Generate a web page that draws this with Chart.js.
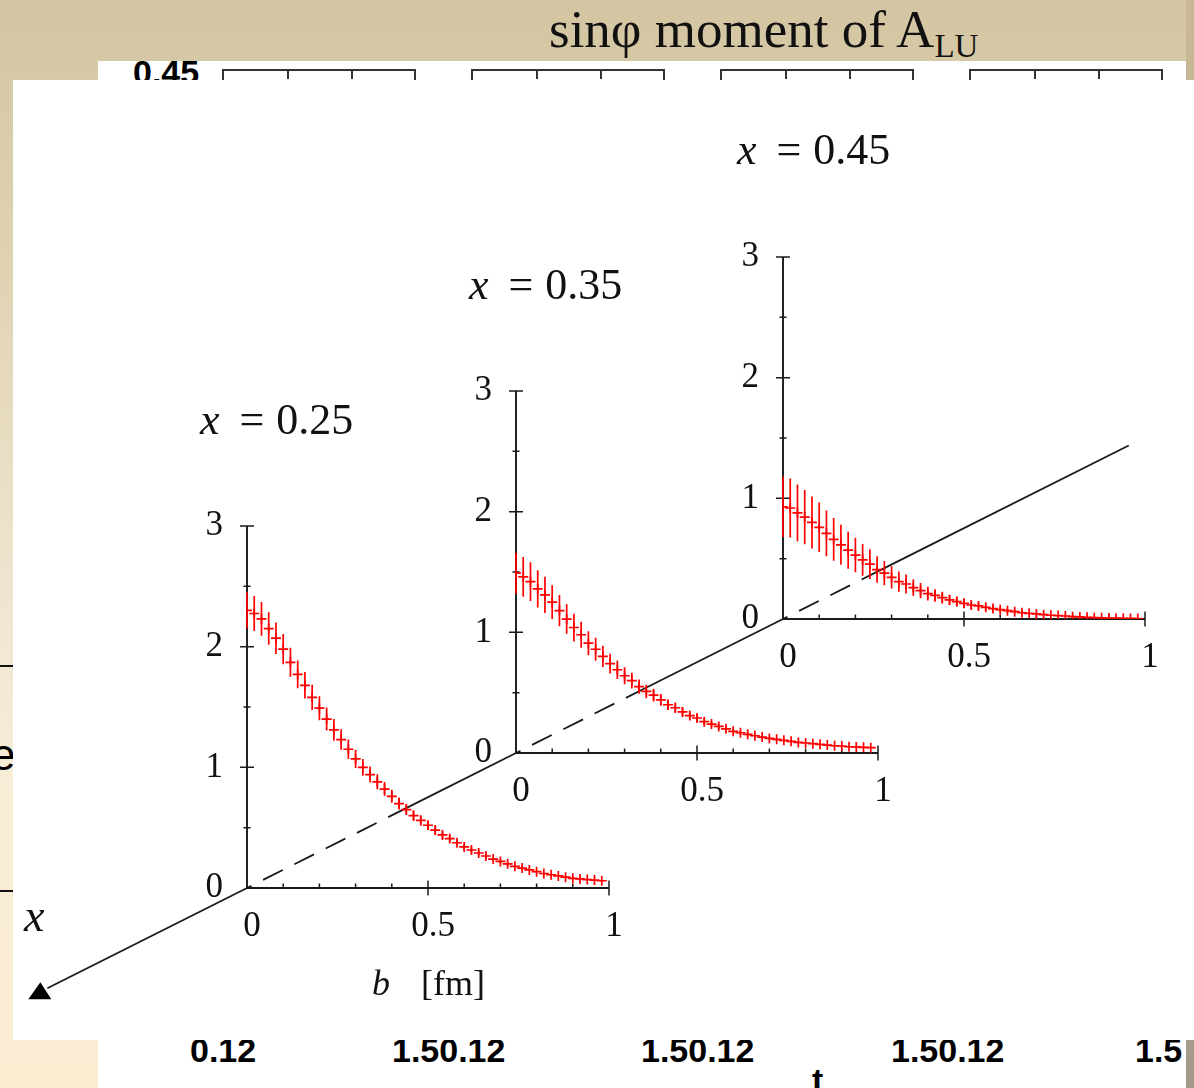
<!DOCTYPE html>
<html lang="en">
<head>
<meta charset="utf-8">
<title>sinφ moment of A_LU</title>
<script src="https://cdn.jsdelivr.net/npm/chart.js@4.4.1/dist/chart.umd.min.js"></script>
<style>
  html, body { margin: 0; padding: 0; }
  body {
    position: relative; width: 1194px; height: 1088px; overflow: hidden;
    background: linear-gradient(to bottom, #d3c5a2 0%, #d8cba8 10%, #e4d7ba 32%, #f1e7d2 58%, #f8edd6 72%, #fbecd2 100%);
    font-family: "Liberation Serif", "Times New Roman", serif; color: #111;
  }
  .abs { position: absolute; white-space: nowrap; line-height: 1; }
  #edge-right { left: 1186px; top: 0; width: 8px; height: 1088px;
    background: linear-gradient(to bottom, #c9b896 0%, #b9aa8b 55%, #a39a8b 100%); }
  #panel-back  { left: 98px; top: 61px; width: 1088px; height: 1027px; background: #fff; }
  #panel-front { left: 13px; top: 80px; width: 1181px; height: 960px; background: #fff; }
  .sans { font-family: "Liberation Sans", Arial, sans-serif; font-weight: bold; font-size: 34px; color: #000; }
  .box { top: 69px; width: 190px; height: 20px; border: 2px solid #333; border-bottom: none; }
  .box::before, .box::after { content: ''; position: absolute; top: 0; width: 2px; height: 8px; background: #333; }
  .box::before { left: 63px; }
  .box::after  { left: 127px; }
  .rule { left: 0; width: 13px; height: 2px; background: #111; }
  canvas { position: absolute; left: 0; top: 0; }
  .slice { font-size: 44px; }
  .slice i { margin-right: 20px; }
  .slice span { margin-left: 12px; }
</style>
</head>
<body>
  <!-- slide behind the figure -->
  <div class="abs" id="edge-right"></div>
  <div class="abs rule" style="top:665px"></div>
  <div class="abs rule" style="top:890px"></div>
  <div class="abs sans" style="left:-9px; top:733px; font-weight:normal; font-size:44px;">e</div>

  <div class="abs" id="panel-back"></div>
  <div class="abs sans" style="left:133px; top:55px;">0.45</div>
  <div class="abs box" style="left:222px"></div>
  <div class="abs box" style="left:471px"></div>
  <div class="abs box" style="left:720px"></div>
  <div class="abs box" style="left:969px"></div>
  <div class="abs sans" style="left:190px; top:1033px;">0.12</div>
  <div class="abs sans" style="left:392px; top:1033px;">1.50.12</div>
  <div class="abs sans" style="left:641px; top:1033px;">1.50.12</div>
  <div class="abs sans" style="left:891px; top:1033px;">1.50.12</div>
  <div class="abs sans" style="left:1135px; top:1033px;">1.5</div>
  <div class="abs sans" style="left:812px; top:1063px;">t</div>

  <div class="abs" style="left:549px; top:3px; font-size:53px;">sinφ moment of A<span style="font-size:33px; position:relative; top:10px;">LU</span></div>

  <div class="abs" id="panel-front"></div>

  <!-- figure -->
  <canvas id="depth-axis" width="1194" height="1088"></canvas>
  <canvas id="chart-x045" width="1194" height="1088"></canvas>
  <canvas id="chart-x035" width="1194" height="1088"></canvas>
  <canvas id="chart-x025" width="1194" height="1088"></canvas>

  <div class="abs slice" style="left:200px; top:398px;"><i>x</i>=<span>0.25</span></div>
  <div class="abs slice" style="left:469px; top:263px;"><i>x</i>=<span>0.35</span></div>
  <div class="abs slice" style="left:737px; top:128px;"><i>x</i>=<span>0.45</span></div>
  <div class="abs" style="left:24px; top:893px; font-size:46px;"><i>x</i></div>
  <div class="abs" style="left:372px; top:965px; font-size:36px;"><i>b</i></div>
  <div class="abs" style="left:421px; top:965px; font-size:36px;">[fm]</div>

<script>
'use strict';

/* ── Data ───────────────────────────────────────────────────────────────── */
const B_FM = [
  0.00, 0.02, 0.04, 0.06, 0.08, 0.10, 0.12, 0.14, 0.16, 0.18,
  0.20, 0.22, 0.24, 0.26, 0.28, 0.30, 0.32, 0.34, 0.36, 0.38,
  0.40, 0.42, 0.44, 0.46, 0.48, 0.50, 0.52, 0.54, 0.56, 0.58,
  0.60, 0.62, 0.64, 0.66, 0.68, 0.70, 0.72, 0.74, 0.76, 0.78,
  0.80, 0.82, 0.84, 0.86, 0.88, 0.90, 0.92, 0.94, 0.96, 0.98
];

const X_SLICES = [0.25, 0.35, 0.45];
const B_TICK_LABELS = ['0', '0.5', '1'];
const Y_TICK_LABELS = ['0', '1', '2', '3'];

const VAL_X025 = [
  2.30, 2.275, 2.23, 2.15, 2.07, 1.98, 1.87, 1.77, 1.68, 1.58,
  1.49, 1.40, 1.31, 1.23, 1.15, 1.07, 1.00, 0.94, 0.88, 0.82,
  0.76, 0.70, 0.65, 0.60, 0.56, 0.52, 0.48, 0.44, 0.41, 0.375,
  0.34, 0.315, 0.29, 0.265, 0.24, 0.22, 0.20, 0.18, 0.165, 0.15,
  0.135, 0.12, 0.11, 0.10, 0.09, 0.08, 0.075, 0.07, 0.066, 0.06
];
const ERR_X025 = [
  0.15, 0.145, 0.14, 0.135, 0.13, 0.125, 0.12, 0.115, 0.11, 0.105,
  0.10, 0.095, 0.09, 0.085, 0.08, 0.075, 0.07, 0.066, 0.062, 0.058,
  0.054, 0.05, 0.046, 0.043, 0.04, 0.037, 0.034, 0.031, 0.029, 0.027,
  0.025, 0.023, 0.021, 0.019, 0.017, 0.016, 0.015, 0.014, 0.013, 0.012,
  0.011, 0.010, 0.009, 0.008, 0.008, 0.007, 0.007, 0.006, 0.006, 0.005
];

const VAL_X035 = [
  1.49, 1.46, 1.42, 1.36, 1.31, 1.25, 1.18, 1.11, 1.04, 0.98,
  0.91, 0.86, 0.80, 0.74, 0.69, 0.64, 0.60, 0.55, 0.51, 0.48,
  0.44, 0.40, 0.375, 0.34, 0.31, 0.29, 0.26, 0.24, 0.22, 0.20,
  0.18, 0.168, 0.155, 0.143, 0.132, 0.121, 0.113, 0.105, 0.097, 0.088,
  0.083, 0.077, 0.072, 0.066, 0.06, 0.058, 0.052, 0.05, 0.047, 0.044
];
const ERR_X035 = [
  0.17, 0.165, 0.16, 0.155, 0.15, 0.14, 0.13, 0.122, 0.115, 0.108,
  0.10, 0.095, 0.088, 0.082, 0.076, 0.07, 0.066, 0.06, 0.056, 0.053,
  0.048, 0.044, 0.041, 0.037, 0.034, 0.032, 0.029, 0.026, 0.024, 0.022,
  0.02, 0.018, 0.017, 0.016, 0.015, 0.013, 0.012, 0.012, 0.011, 0.01,
  0.009, 0.008, 0.008, 0.007, 0.007, 0.006, 0.006, 0.005, 0.005, 0.005
];

const VAL_X045 = [
  0.93, 0.92, 0.88, 0.845, 0.80, 0.76, 0.71, 0.66, 0.615, 0.57,
  0.53, 0.49, 0.455, 0.41, 0.38, 0.345, 0.31, 0.29, 0.26, 0.235,
  0.21, 0.195, 0.177, 0.158, 0.144, 0.13, 0.116, 0.108, 0.097, 0.086,
  0.077, 0.069, 0.061, 0.052, 0.047, 0.042, 0.036, 0.031, 0.028, 0.025,
  0.019, 0.017, 0.014, 0.011, 0.01, 0.008, 0.007, 0.006, 0.005, 0.004
];
const ERR_X045 = [
  0.25, 0.245, 0.235, 0.225, 0.215, 0.205, 0.19, 0.178, 0.166, 0.154,
  0.143, 0.132, 0.123, 0.11, 0.10, 0.093, 0.084, 0.078, 0.07, 0.063,
  0.057, 0.052, 0.048, 0.043, 0.039, 0.035, 0.031, 0.029, 0.026, 0.023,
  0.021, 0.019, 0.016, 0.014, 0.013, 0.011, 0.01, 0.008, 0.008, 0.007,
  0.005, 0.005, 0.004, 0.003, 0.003, 0.002, 0.002, 0.002, 0.001, 0.001
];

/* ── Layout (pixels) ────────────────────────────────────────────────────── */
const PAGE_W = 1194, PAGE_H = 1088;
const PLOT_SIZE = 362;                 // each mini plot is a square
const AXIS_W = 80, AXIS_H = 80;        // fixed room for tick labels
const PLOT_ORIGINS = [
  { left: 247, bottom: 888 },
  { left: 516, bottom: 753 },
  { left: 783, bottom: 619 }
];
const DEPTH_RANGE = [0.1755, 0.579];   // where the oblique x axis starts / ends
const INK = '#1a1a1a';
const RED = '#ff0000';
const SERIF = '"Liberation Serif", "Times New Roman", serif';

/* ── Plugins ────────────────────────────────────────────────────────────── */
// axes that cross at the origin, with ticks on both sides like the figure
const crossAxesPlugin = {
  id: 'crossAxes',
  beforeDatasetsDraw(chart) {
    const { ctx, scales: { x, y } } = chart;
    const x0 = x.getPixelForValue(0), y0 = y.getPixelForValue(0);
    ctx.save();
    ctx.strokeStyle = INK;
    ctx.lineWidth = 1.9;
    ctx.beginPath();
    ctx.moveTo(x0, y.getPixelForValue(y.max));
    ctx.lineTo(x0, y0);
    ctx.lineTo(x.getPixelForValue(x.max), y0);
    ctx.stroke();

    ctx.lineWidth = 1.5;
    ctx.beginPath();
    y.ticks.forEach(t => {
      if (t.value === 0) return;
      const p = y.getPixelForValue(t.value);
      const len = t.label ? 7 : 3.5;
      ctx.moveTo(x0 - len, p);
      ctx.lineTo(x0 + len, p);
    });
    x.ticks.forEach(t => {
      if (t.value === 0) return;
      const p = x.getPixelForValue(t.value);
      if (t.label) {
        ctx.moveTo(p, y0 - 7.5);
        ctx.lineTo(p, y0 + 7.5);
      } else {
        ctx.moveTo(p, y0 - 4.5);
        ctx.lineTo(p, y0);
      }
    });
    ctx.stroke();
    ctx.restore();
  }
};

// vertical error bars, read from dataset.errors
const errorBarPlugin = {
  id: 'errorBars',
  afterDatasetsDraw(chart) {
    const { ctx, scales: { x, y } } = chart;
    const ds = chart.data.datasets[0];
    ctx.save();
    ctx.strokeStyle = ds.borderColor;
    ctx.lineWidth = 1.7;
    ctx.beginPath();
    ds.data.forEach((pt, i) => {
      const px = x.getPixelForValue(pt.x);
      ctx.moveTo(px, y.getPixelForValue(pt.y + ds.errors[i]));
      ctx.lineTo(px, y.getPixelForValue(pt.y - ds.errors[i]));
    });
    ctx.stroke();
    ctx.restore();
  }
};

/* ── Mini charts ────────────────────────────────────────────────────────── */
const near = (v, list) => list.find(s => Math.abs(Number(s) - v) < 1e-6);

function makeSliceChart(canvasId, values, errors, origin) {
  return new Chart(document.getElementById(canvasId), {
    type: 'scatter',
    data: {
      datasets: [{
        data: B_FM.map((b, i) => ({ x: b, y: values[i] })),
        errors: errors,
        pointStyle: 'cross',
        pointRadius: 5,
        borderColor: RED,
        borderWidth: 1.7,
        showLine: false
      }]
    },
    options: {
      responsive: false,
      animation: false,
      events: [],
      layout: {
        padding: {
          left: origin.left - AXIS_W,
          top: origin.bottom - PLOT_SIZE,
          right: PAGE_W - origin.left - PLOT_SIZE,
          bottom: PAGE_H - origin.bottom - AXIS_H
        }
      },
      plugins: { legend: { display: false }, tooltip: { enabled: false } },
      scales: {
        x: {
          type: 'linear', min: 0, max: 1,
          afterFit: s => { s.height = AXIS_H; },
          grid: { display: false, drawTicks: false },
          border: { display: false },
          ticks: {
            stepSize: 0.1, autoSkip: false, maxRotation: 0,
            padding: 18, labelOffset: 5, color: '#111',
            font: { family: SERIF, size: 35 },
            callback: v => near(v, B_TICK_LABELS) || ''
          }
        },
        y: {
          type: 'linear', min: 0, max: 3,
          afterFit: s => { s.width = AXIS_W; },
          grid: { display: false, drawTicks: false },
          border: { display: false },
          ticks: {
            stepSize: 0.5, autoSkip: false,
            padding: 24, color: '#111',
            font: { family: SERIF, size: 35 },
            callback: v => near(v, Y_TICK_LABELS) || ''
          }
        }
      }
    },
    plugins: [crossAxesPlugin, errorBarPlugin]
  });
}

// back to front
const chartX045 = makeSliceChart('chart-x045', VAL_X045, ERR_X045, PLOT_ORIGINS[2]);
const chartX035 = makeSliceChart('chart-x035', VAL_X035, ERR_X035, PLOT_ORIGINS[1]);
const chartX025 = makeSliceChart('chart-x025', VAL_X025, ERR_X025, PLOT_ORIGINS[0]);
const charts = [chartX025, chartX035, chartX045];
const sliceValues = [VAL_X025, VAL_X035, VAL_X045];

/* ── Oblique x axis through the three origins ───────────────────────────── */
(function drawDepthAxis() {
  const ctx = document.getElementById('depth-axis').getContext('2d');
  const origins = charts.map(c => ({
    x: c.scales.x.getPixelForValue(0),
    y: c.scales.y.getPixelForValue(0)
  }));
  const stepX = X_SLICES[1] - X_SLICES[0];
  const step = {
    x: (origins[2].x - origins[0].x) / 2,
    y: (origins[2].y - origins[0].y) / 2
  };
  const at = depth => ({
    x: origins[0].x + (depth - X_SLICES[0]) / stepX * step.x,
    y: origins[0].y + (depth - X_SLICES[0]) / stepX * step.y
  });

  // where the curve passes in front of the axis (hidden part is dashed)
  function crossing(chart, values, o) {
    const xs = chart.scales.x, ys = chart.scales.y;
    const pxB = xs.getPixelForValue(1) - xs.getPixelForValue(0);
    const pxV = ys.getPixelForValue(0) - ys.getPixelForValue(1);
    const slope = (-step.y / pxV) / (step.x / pxB);
    for (let i = 1; i < B_FM.length; i++) {
      const f0 = values[i - 1] - slope * B_FM[i - 1];
      const f1 = values[i] - slope * B_FM[i];
      if (f1 <= 0) {
        const b = B_FM[i - 1] + (B_FM[i] - B_FM[i - 1]) * f0 / (f0 - f1);
        const frac = b * pxB / step.x;
        return { x: o.x + frac * step.x, y: o.y + frac * step.y };
      }
    }
    return o;
  }

  const start = at(DEPTH_RANGE[0]);
  const end = at(DEPTH_RANGE[1]);

  ctx.strokeStyle = INK;
  ctx.fillStyle = '#000';
  ctx.lineWidth = 1.8;

  function seg(a, b, dashed) {
    ctx.setLineDash(dashed ? [22, 13] : []);
    ctx.lineDashOffset = dashed ? 17 : 0;
    ctx.beginPath();
    ctx.moveTo(a.x, a.y);
    ctx.lineTo(b.x, b.y);
    ctx.stroke();
  }

  seg(start, origins[0], false);
  origins.forEach((o, k) => {
    const c = crossing(charts[k], sliceValues[k], o);
    seg(o, c, true);
    seg(c, k < origins.length - 1 ? origins[k + 1] : end, false);
  });

  // arrow head
  ctx.setLineDash([]);
  ctx.beginPath();
  ctx.moveTo(start.x - 19, start.y + 11);
  ctx.lineTo(start.x + 4, start.y + 11);
  ctx.lineTo(start.x - 7, start.y - 6);
  ctx.closePath();
  ctx.fill();
})();
</script>
</body>
</html>
